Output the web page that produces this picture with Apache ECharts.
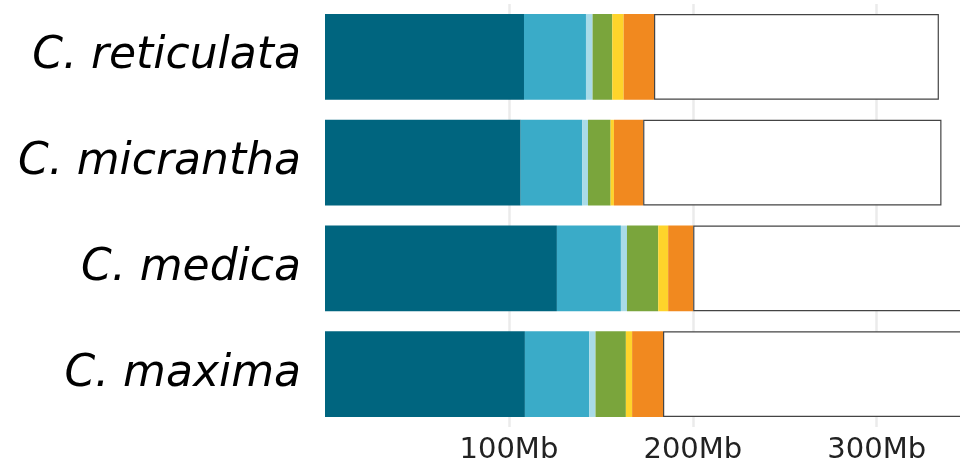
<!DOCTYPE html>
<html>
<head>
<meta charset="utf-8">
<script src="https://cdn.jsdelivr.net/npm/echarts@6/dist/echarts.min.js"></script>
<style>html,body{margin:0;padding:0;background:#fff;overflow:hidden;}#chart{width:970px;height:469px;}</style>
</head>
<body>
<div id="chart"></div>
<script>
const species = ['C. reticulata', 'C. micrantha', 'C. medica', 'C. maxima'];
const tickLabels = ['100Mb', '200Mb', '300Mb'];
const segmentNames = ['seg1', 'seg2', 'seg3', 'seg4', 'seg5', 'seg6', 'rest'];
const seg1 = [108.2, 106.4, 126.1, 108.7];
const seg2 = [33.7, 33.5, 34.8, 35.0];
const seg3 = [3.6, 3.1, 3.3, 3.4];
const seg4 = [10.7, 12.3, 17.0, 16.5];
const seg5 = [6.2, 1.8, 5.4, 3.4];
const seg6 = [16.5, 15.9, 13.6, 16.8];
const rest = [154.9, 162.2, 170.0, 180.0];
const segColors = ['#00657f', '#3aabc8', '#a9dbe8', '#7aa53c', '#fed42b', '#f1891f', '#ffffff'];

const segData = [seg1, seg2, seg3, seg4, seg5, seg6, rest];
const chart = echarts.init(document.getElementById('chart'));
chart.setOption({
  animation: false,
  grid: { left: 325, right: 5, top: 4, bottom: 42, containLabel: false },
  xAxis: {
    type: 'value', min: 0, max: 348, interval: 100,
    axisLine: { show: false }, axisTick: { show: false },
    splitLine: { show: true, showMinLine: false, showMaxLine: false, lineStyle: { color: '#ebebeb', width: 2.5 } },
    axisLabel: {
      fontFamily: 'DejaVu Sans', fontSize: 29, color: '#222', margin: 9,
      formatter: function (v) { const i = Math.round(v / 100) - 1; return i >= 0 && i < tickLabels.length ? tickLabels[i] : ''; }
    }
  },
  yAxis: {
    type: 'category', data: species, inverse: true,
    axisLine: { show: false }, axisTick: { show: false },
    axisLabel: { fontFamily: 'DejaVu Sans', fontStyle: 'italic', fontSize: 44, color: '#000', margin: 24 }
  },
  series: segData.map(function (d, i) {
    return {
      name: segmentNames[i], type: 'bar', stack: 'total', data: d,
      barCategoryGap: '19%', clip: true,
      itemStyle: i === 6 ? { color: segColors[i], borderColor: '#444', borderWidth: 1.2 } : { color: segColors[i] }
    };
  })
});
</script>
</body>
</html>
